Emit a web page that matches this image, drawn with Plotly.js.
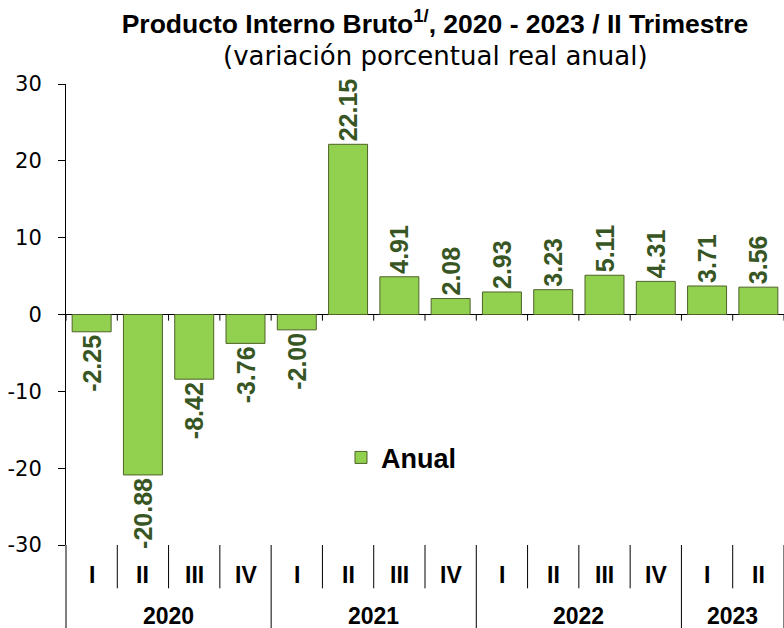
<!DOCTYPE html>
<html>
<head>
<meta charset="utf-8">
<script src="https://cdn.plot.ly/plotly-3.0.1.min.js"></script>
<style>html,body{margin:0;padding:0;background:#fff;}#chart{width:784px;height:628px;}</style>
</head>
<body>
<div id="chart"></div>
<script>
const years = ['2020','2020','2020','2020','2021','2021','2021','2021','2022','2022','2022','2022','2023','2023'];
const quarters = ['I','II','III','IV','I','II','III','IV','I','II','III','IV','I','II'];
const anual = [-2.25, -20.88, -8.42, -3.76, -2.00, 22.15, 4.91, 2.08, 2.93, 3.23, 5.11, 4.31, 3.71, 3.56];
const yTickVals = [-30, -20, -10, 0, 10, 20, 30];
const yTickText = ['-30', '-20', '-10', '0', '10', '20', '30'];
const seriesName = 'Anual';
const titleText = 'Producto Interno Bruto<sup>1/</sup>, 2020 - 2023 / II Trimestre';
const subtitleText = '(variación porcentual real anual)';

const n = anual.length;
const labelFont = {family:'Liberation Sans, Arial, sans-serif', size:23, color:'#000', weight:'bold'};
const shapes = [];
const annotations = [];

// category boundaries: small ticks on the zero line and quarter dividers below the plot
for (let i = 0; i <= n; i++) {
  shapes.push({type:'line', xref:'paper', yref:'y', x0:i/n, x1:i/n, y0:0, y1:-0.8, line:{color:'#000', width:1}});
  const isYearEdge = (i === 0 || i === n || years[i] !== years[i-1]);
  shapes.push({type:'line', xref:'paper', yref:'paper', x0:i/n, x1:i/n, y0:0, y1:isYearEdge ? -0.185 : -0.094, line:{color:'#000', width:1}});
}
// quarter labels
quarters.forEach((q, i) => {
  annotations.push({text:q, xref:'paper', yref:'paper', x:(i+0.5)/n, y:-0.065, xanchor:'center', yanchor:'middle', showarrow:false, font:labelFont});
});
// year labels, centred on their group of quarters
const uniqueYears = [...new Set(years)];
uniqueYears.forEach(yr => {
  const idx = years.map((v, i) => v === yr ? i : -1).filter(i => i >= 0);
  const first = idx[0], last = idx[idx.length - 1];
  annotations.push({text:yr, xref:'paper', yref:'paper', x:(first + last + 1) / 2 / n, y:-0.155, xanchor:'center', yanchor:'middle', showarrow:false, font:labelFont});
});
// subtitle
annotations.push({text:subtitleText, xref:'paper', yref:'paper', x:(435-66)/718, y:1+(84-56)/461, xanchor:'center', yanchor:'middle', showarrow:false,
  font:{family:'DejaVu Sans, sans-serif', size:26, color:'#000'}});

const trace = {
  type:'bar',
  name: seriesName,
  x:[years, quarters],
  y: anual,
  marker:{color:'#92D050', line:{color:'#4F6228', width:1}},
  texttemplate:'%{y:.2f}',
  textposition:'outside',
  textangle:-90,
  cliponaxis:false,
  constraintext:'none',
  textfont:{family:'Liberation Sans, Arial, sans-serif', size:25, color:'#375623', weight:'bold'},
  showlegend:true
};

const layout = {
  width:784, height:628,
  margin:{l:66, r:0, t:84, b:83},
  paper_bgcolor:'#fff', plot_bgcolor:'#fff',
  bargap:0.24,
  showlegend:true,
  title:{text:titleText, x:435/784, xref:'container', xanchor:'center', y:1-24/628, yref:'container', yanchor:'middle',
    font:{family:'Liberation Sans, Arial, sans-serif', size:26.5, color:'#000', weight:'bold'}},
  annotations: annotations,
  legend:{x:0.383, y:0.189, xanchor:'left', yanchor:'middle', bgcolor:'rgba(0,0,0,0)',
    font:{family:'Liberation Sans, Arial, sans-serif', size:27, color:'#000', weight:'bold'}},
  xaxis:{type:'multicategory', showline:false, ticks:'', showticklabels:false, showdividers:false, showgrid:false, zeroline:false},
  yaxis:{range:[-30,30], tickmode:'array', tickvals:yTickVals, ticktext:yTickText, showline:true, linecolor:'#000', linewidth:1, ticks:'outside', ticklen:7, tickcolor:'#000',
    showgrid:false, zeroline:true, zerolinecolor:'#000', zerolinewidth:1, ticklabelstandoff:12,
    tickfont:{family:'DejaVu Sans, sans-serif', size:21, color:'#000'}},
  shapes: shapes
};

Plotly.newPlot('chart', [trace], layout, {staticPlot:true, displayModeBar:false});
</script>
</body>
</html>
